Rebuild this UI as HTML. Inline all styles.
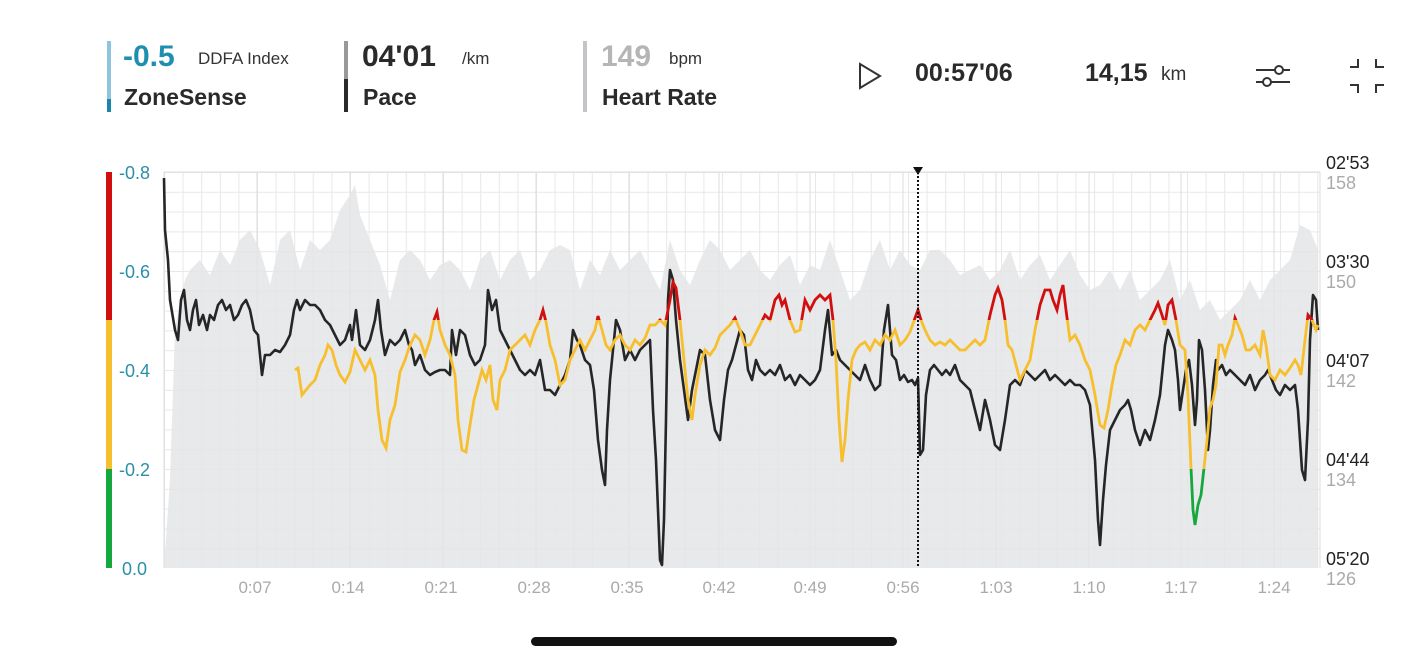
<!DOCTYPE html>
<html><head><meta charset="utf-8"><style>
html,body{margin:0;padding:0;background:#fff;width:1428px;height:660px;overflow:hidden;font-family:"Liberation Sans",sans-serif}
.t{position:absolute;white-space:nowrap}
</style></head><body>
<div style="position:absolute;left:107px;top:41px;width:4px;height:58px;background:#8fc5dc"></div>
<div style="position:absolute;left:107px;top:99px;width:4px;height:13px;background:#1c86a8"></div>
<div class="t" style="left:123px;top:40px;font-size:30px;font-weight:bold;color:#1f8fb0">-0.5</div>
<div class="t" style="left:198px;top:49px;font-size:17px;color:#333">DDFA Index</div>
<div class="t" style="left:124px;top:84px;font-size:23px;font-weight:bold;color:#2a2a2a">ZoneSense</div>
<div style="position:absolute;left:344px;top:41px;width:4px;height:38px;background:#999"></div>
<div style="position:absolute;left:344px;top:79px;width:4px;height:33px;background:#2a2a2a"></div>
<div class="t" style="left:362px;top:40px;font-size:30px;font-weight:bold;color:#2a2a2a">04'01</div>
<div class="t" style="left:462px;top:49px;font-size:17px;color:#333">/km</div>
<div class="t" style="left:363px;top:84px;font-size:23px;font-weight:bold;color:#2a2a2a">Pace</div>
<div style="position:absolute;left:583px;top:41px;width:4px;height:71px;background:#c4c4c8"></div>
<div class="t" style="left:601px;top:40px;font-size:30px;font-weight:bold;color:#b5b5b5">149</div>
<div class="t" style="left:669px;top:49px;font-size:17px;color:#333">bpm</div>
<div class="t" style="left:602px;top:84px;font-size:23px;font-weight:bold;color:#2a2a2a">Heart Rate</div>
<svg style="position:absolute;left:0;top:0" width="1428" height="660">
<polygon points="860,64 880,76 860,88" fill="none" stroke="#333" stroke-width="2"/>
<g stroke="#333" stroke-width="2" fill="#fff">
<line x1="1256" y1="70" x2="1290" y2="70"/><line x1="1256" y1="82" x2="1290" y2="82"/>
<circle cx="1279" cy="70" r="4"/><circle cx="1267" cy="82" r="4"/>
<polyline fill="none" points="1350,67 1358,67 1358,59"/><polyline fill="none" points="1384,67 1376,67 1376,59"/>
<polyline fill="none" points="1350,85 1358,85 1358,93"/><polyline fill="none" points="1384,85 1376,85 1376,93"/>
</g>
<rect x="531" y="637" width="366" height="9" rx="4.5" fill="#111"/>
<defs>
<pattern id="g" x="164" y="172" width="18.6" height="19.8" patternUnits="userSpaceOnUse">
<path d="M0.5 0V19.8M0 0.5H18.6" stroke="#e8e8e8" stroke-width="1" fill="none"/></pattern>
<clipPath id="cr"><rect x="0" y="0" width="1428" height="320"/></clipPath>
<clipPath id="cy"><rect x="0" y="320" width="1428" height="149"/></clipPath>
<clipPath id="cg"><rect x="0" y="469" width="1428" height="200"/></clipPath>
</defs>
<rect x="164" y="172" width="1156" height="396" fill="url(#g)"/>
<g stroke="#dcdcdc" stroke-width="1">
<line x1="164" y1="172" x2="164" y2="568"/><line x1="257" y1="172" x2="257" y2="568"/><line x1="350" y1="172" x2="350" y2="568"/><line x1="443" y1="172" x2="443" y2="568"/><line x1="536" y1="172" x2="536" y2="568"/><line x1="629" y1="172" x2="629" y2="568"/><line x1="719" y1="172" x2="719" y2="568"/><line x1="810" y1="172" x2="810" y2="568"/><line x1="903" y1="172" x2="903" y2="568"/><line x1="996" y1="172" x2="996" y2="568"/><line x1="1089" y1="172" x2="1089" y2="568"/><line x1="1181" y1="172" x2="1181" y2="568"/><line x1="1274" y1="172" x2="1274" y2="568"/><line x1="1320" y1="172" x2="1320" y2="568"/>
<line x1="164" y1="172" x2="1320" y2="172"/>
</g>
<polygon fill="#e4e5e8" fill-opacity="0.85" points="164,568 170,480 175,330 180,300 185,280 190,270 200,260 210,275 220,250 230,265 240,240 250,230 260,250 270,285 280,240 290,230 300,270 310,240 320,250 330,240 340,210 350,195 355,185 360,215 370,240 380,265 390,300 400,260 410,250 420,260 430,280 440,265 450,260 460,270 470,290 480,260 490,250 500,280 510,260 520,250 530,280 540,270 550,250 560,245 570,250 580,290 590,260 600,275 610,250 620,270 630,260 640,250 650,270 660,290 670,240 680,270 690,285 700,260 710,240 720,250 730,270 740,260 750,250 760,270 770,280 780,265 790,255 800,285 810,265 820,270 830,240 840,270 850,300 860,290 870,260 880,240 890,270 900,250 910,265 920,270 930,250 940,250 950,260 960,275 970,270 980,265 990,280 1000,270 1010,250 1020,280 1030,265 1040,255 1050,280 1060,265 1070,250 1080,275 1090,290 1100,285 1110,270 1120,290 1130,270 1140,300 1150,290 1160,280 1170,260 1180,300 1190,280 1200,310 1210,300 1220,320 1230,310 1240,300 1250,280 1260,300 1270,280 1280,270 1290,260 1300,225 1310,230 1318,250 1318,568"/>
<polyline fill="none" stroke="#262626" stroke-width="2.6" stroke-linejoin="round" points="164,178 165,230 168,260 170,300 175,330 178,340 181,300 184,290 187,320 190,330 193,310 196,300 199,325 203,315 207,330 210,315 214,320 218,305 222,300 226,310 230,305 234,320 238,315 242,305 246,300 250,310 254,330 258,335 262,375 265,355 270,355 275,350 280,352 285,345 290,335 294,310 297,300 300,310 305,300 310,305 315,305 320,310 325,320 330,325 335,335 340,345 345,340 350,325 352,340 356,310 360,345 365,350 370,340 375,320 378,300 381,330 385,355 390,340 395,345 400,340 405,330 409,345 412,350 415,365 420,355 425,370 430,375 435,372 440,370 445,370 450,375 452,330 456,355 460,330 465,335 470,355 475,365 480,360 485,345 488,290 492,310 496,300 500,330 505,340 510,350 515,360 520,370 525,375 530,370 535,375 540,360 545,390 550,390 555,395 560,385 565,375 570,360 573,330 577,340 580,345 585,360 590,365 594,390 598,440 602,470 605,485 607,430 610,380 613,350 616,320 620,330 625,360 630,350 635,360 640,350 645,345 650,340 653,410 656,460 658,510 660,560 662,565 664,520 666,420 668,300 670,270 673,280 676,320 680,360 684,390 688,420 692,390 696,370 700,350 705,355 710,400 715,430 720,440 724,400 728,370 732,360 736,345 740,330 744,335 748,370 752,380 756,360 760,370 765,375 770,370 775,375 780,365 785,380 790,375 795,385 800,375 805,380 810,385 815,380 820,370 825,330 828,310 832,355 836,350 840,360 845,365 850,370 855,375 860,380 865,365 870,380 875,390 880,385 884,330 888,305 892,355 896,360 900,380 904,375 908,382 912,380 915,385 918,378 920,455 923,450 926,395 930,370 934,365 938,370 942,375 946,370 950,375 955,365 960,380 965,385 970,390 975,410 980,430 985,400 990,420 995,445 1000,450 1005,420 1010,385 1015,380 1020,385 1025,370 1030,375 1035,380 1040,375 1045,370 1050,380 1055,375 1060,380 1065,385 1070,380 1075,385 1080,385 1085,390 1090,405 1095,460 1098,520 1100,545 1103,500 1106,465 1110,430 1115,420 1120,410 1125,405 1128,400 1131,410 1135,430 1140,445 1145,430 1150,440 1155,420 1160,395 1165,345 1168,330 1172,340 1175,350 1178,380 1180,410 1183,390 1186,370 1189,360 1192,385 1195,425 1197,400 1199,340 1202,350 1205,390 1208,450 1210,430 1213,385 1216,360 1218,370 1222,365 1226,375 1230,370 1235,375 1240,380 1245,385 1250,375 1255,390 1260,380 1265,375 1268,370 1272,380 1276,390 1280,395 1285,385 1290,390 1295,385 1298,410 1302,470 1305,480 1308,420 1310,340 1313,295 1316,300 1318,330"/>
<g id="yl" fill="none" stroke-width="2.8" stroke-linejoin="round">
<polyline id="yp" points="295,370 298,368 302,395 306,390 310,385 315,380 320,365 325,355 328,345 332,350 336,365 340,375 345,382 350,372 355,350 360,360 365,370 370,360 375,375 378,410 382,440 386,448 390,420 395,405 400,372 405,360 410,345 415,335 420,340 425,355 430,340 434,320 437,312 440,330 445,345 450,355 455,375 458,420 462,450 466,452 470,425 474,400 478,385 482,370 486,380 490,365 493,400 497,410 500,380 505,370 510,350 515,345 520,340 525,335 530,345 535,330 540,320 543,310 546,322 550,345 555,360 560,385 565,380 570,360 575,350 580,340 585,350 590,340 595,330 598,316 602,330 606,345 610,350 615,340 620,335 625,345 630,350 635,340 640,345 645,338 650,325 655,325 660,320 665,325 670,300 673,282 676,288 680,320 684,360 688,400 692,420 695,395 700,365 705,350 710,355 715,348 720,335 725,330 730,325 735,318 740,330 745,345 750,345 755,335 760,325 765,315 770,320 775,300 779,295 782,305 785,300 790,320 795,332 800,330 805,300 810,310 815,300 820,295 825,300 830,295 833,320 836,360 839,420 842,462 845,440 848,400 852,360 856,350 860,345 865,342 870,350 875,340 880,345 885,335 890,340 895,330 900,345 905,340 910,332 915,318 918,310 921,320 925,330 930,340 935,345 940,342 945,345 950,340 955,345 960,350 965,350 970,345 975,340 980,345 985,340 990,315 995,295 998,288 1002,300 1005,320 1008,345 1012,350 1016,365 1020,380 1025,370 1030,360 1035,330 1040,305 1045,290 1050,290 1053,300 1057,310 1060,295 1063,285 1066,310 1070,340 1075,335 1080,345 1085,360 1090,370 1095,395 1100,425 1104,428 1108,410 1112,385 1116,365 1120,355 1125,340 1130,345 1135,330 1140,325 1145,330 1150,320 1155,310 1158,303 1162,315 1165,325 1168,305 1172,300 1176,320 1180,345 1185,350 1188,395 1191,468 1193,510 1195,525 1198,505 1201,495 1204,468 1207,440 1210,408 1213,400 1216,385 1219,345 1222,345 1225,355 1228,345 1232,335 1235,318 1238,325 1242,335 1246,350 1250,350 1255,345 1260,355 1263,330 1266,345 1270,375 1275,380 1280,370 1285,375 1290,368 1295,360 1298,365 1301,375 1305,340 1308,315 1312,320 1316,330 1318,325"/>
</g>
<use href="#yp" stroke="#f7bf2e" fill="none" stroke-width="2.8" clip-path="url(#cy)"/>
<use href="#yp" stroke="#d20f0f" fill="none" stroke-width="2.8" clip-path="url(#cr)"/>
<use href="#yp" stroke="#15a83e" fill="none" stroke-width="2.8" clip-path="url(#cg)"/>
<line x1="918" y1="172" x2="918" y2="568" stroke="#111" stroke-width="2" stroke-dasharray="2,2"/>
<polygon points="913,167 923,167 918,175" fill="#111"/>
<rect x="106" y="172" width="6" height="148" fill="#d20f0f"/>
<rect x="106" y="320" width="6" height="149" fill="#f7bf2e"/>
<rect x="106" y="469" width="6" height="99" fill="#15a83e"/>
<g font-size="18" fill="#2a8fa8" font-family="Liberation Sans,sans-serif">
<text x="119" y="179">-0.8</text><text x="119" y="278">-0.6</text><text x="119" y="377">-0.4</text><text x="119" y="476">-0.2</text><text x="122" y="575">0.0</text></g>
<g font-size="17" fill="#aaa" font-family="Liberation Sans,sans-serif" text-anchor="middle">
<text x="255" y="593">0:07</text><text x="348" y="593">0:14</text><text x="441" y="593">0:21</text><text x="534" y="593">0:28</text><text x="627" y="593">0:35</text><text x="719" y="593">0:42</text><text x="810" y="593">0:49</text><text x="903" y="593">0:56</text><text x="996" y="593">1:03</text><text x="1089" y="593">1:10</text><text x="1181" y="593">1:17</text><text x="1274" y="593">1:24</text></g>
<g font-size="18" font-family="Liberation Sans,sans-serif">
<text x="1326" y="169" fill="#222">02'53</text><text x="1326" y="189" fill="#aaa">158</text>
<text x="1326" y="268" fill="#222">03'30</text><text x="1326" y="288" fill="#aaa">150</text>
<text x="1326" y="367" fill="#222">04'07</text><text x="1326" y="387" fill="#aaa">142</text>
<text x="1326" y="466" fill="#222">04'44</text><text x="1326" y="486" fill="#aaa">134</text>
<text x="1326" y="565" fill="#222">05'20</text><text x="1326" y="585" fill="#aaa">126</text></g>
</svg>
<div class="t" style="left:915px;top:59px;font-size:25px;font-weight:bold;color:#2a2a2a">00:57'06</div>
<div class="t" style="left:1085px;top:59px;font-size:25px;font-weight:bold;color:#2a2a2a">14,15</div>
<div class="t" style="left:1161px;top:64px;font-size:19px;color:#333">km</div>
</body></html>
